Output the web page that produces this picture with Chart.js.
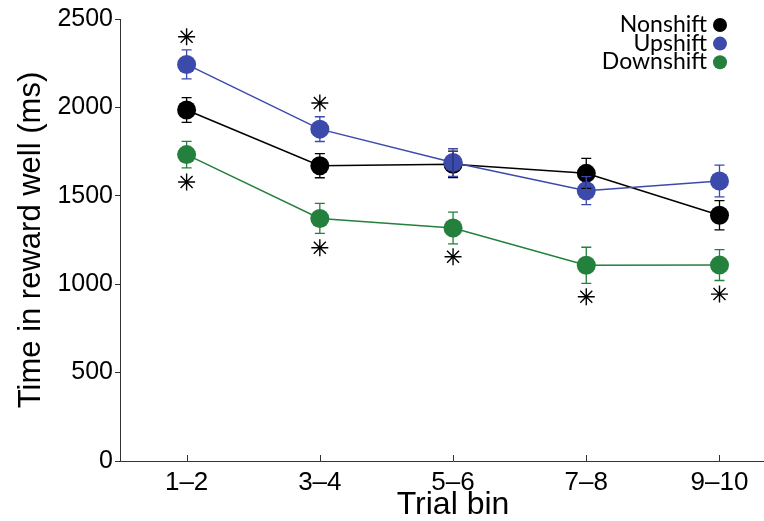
<!DOCTYPE html>
<html>
<head>
<meta charset="utf-8">
<script src="https://cdn.jsdelivr.net/npm/chart.js@4/dist/chart.umd.min.js"></script>
<style>
  html, body { margin: 0; padding: 0; background: #ffffff; overflow: hidden; width: 764px; height: 521px; }
  #wrap { width: 796px; height: 521px; }
</style>
</head>
<body>
<div id="wrap"><canvas id="c" width="796" height="521"></canvas></div>
<script>
// ---- data ----
const categories = ['1–2', '3–4', '5–6', '7–8', '9–10'];
const nonshift     = [1985, 1670, 1678, 1627, 1390];
const nonshiftErr  = [70, 68, 75, 85, 83];
const upshift      = [2243, 1877, 1688, 1529, 1584];
const upshiftErr   = [82, 70, 78, 79, 90];
const downshift    = [1733, 1372, 1318, 1107, 1108];
const downshiftErr = [75, 85, 90, 102, 87];
const sigAbove = [2400, 2025, null, null, null];
const sigBelow = [1578, 1206, 1155, 929, 944];
const yMin = 0, yMax = 2500, yStep = 500;
const seriesNames = ['Nonshift', 'Upshift', 'Downshift'];
const colors = { Nonshift: '#000000', Upshift: '#3c4aab', Downshift: '#23803d' };

const errorBars = {
  id: 'errorBars',
  afterDatasetsDraw(chart) {
    const ctx = chart.ctx, ys = chart.scales.y;
    chart.data.datasets.forEach((ds, di) => {
      if (!ds.errors) return;
      const meta = chart.getDatasetMeta(di);
      ctx.save();
      ctx.strokeStyle = ds.borderColor;
      ctx.lineWidth = 1.3;
      ds.data.forEach((v, i) => {
        const e = ds.errors[i];
        const x = meta.data[i].x;
        const yt = ys.getPixelForValue(v + e), yb = ys.getPixelForValue(v - e);
        ctx.beginPath();
        ctx.moveTo(x, yt); ctx.lineTo(x, yb);
        ctx.moveTo(x - 5, yt); ctx.lineTo(x + 5, yt);
        ctx.moveTo(x - 5, yb); ctx.lineTo(x + 5, yb);
        ctx.stroke();
      });
      ctx.restore();
    });
  }
};

const innerTicks = {
  id: 'innerTicks',
  afterDraw(chart) {
    const xs = chart.scales.x, ctx = chart.ctx, bottom = chart.chartArea.bottom;
    ctx.save();
    ctx.strokeStyle = '#333';
    ctx.lineWidth = 1;
    xs.ticks.forEach((t, i) => {
      const x = Math.round(xs.getPixelForTick(i)) + 0.5;
      ctx.beginPath(); ctx.moveTo(x, bottom); ctx.lineTo(x, bottom - 6); ctx.stroke();
    });
    ctx.restore();
  }
};

const cornerLegend = {
  id: 'cornerLegend',
  afterDraw(chart) {
    const ctx = chart.ctx;
    ctx.save();
    ctx.font = '23px Lato';
    ctx.textAlign = 'right';
    ctx.textBaseline = 'alphabetic';
    const textRight = 707, dotX = 720;
    seriesNames.forEach((name, i) => {
      const base = 32 + i * 18.6;
      ctx.fillStyle = '#000';
      ctx.fillText(name, textRight, base);
      ctx.beginPath();
      ctx.arc(dotX, base - 7, 7, 0, Math.PI * 2);
      ctx.fillStyle = colors[name];
      ctx.fill();
    });
    ctx.restore();
  }
};

function lineSet(label, data, errs, order) {
  return {
    label, data, errors: errs, order,
    borderColor: colors[label], backgroundColor: colors[label],
    pointBackgroundColor: colors[label], pointBorderColor: colors[label],
    borderWidth: 1.5, pointRadius: 9.5, pointBorderWidth: 0, tension: 0
  };
}
function starSet(label, data) {
  return {
    label, data, order: 0, showLine: false,
    pointStyle: 'star', pointRadius: 8.5, pointBorderWidth: 1.4,
    pointBorderColor: '#000', borderColor: '#000', backgroundColor: '#000'
  };
}

new Chart(document.getElementById('c'), {
  type: 'line',
  data: {
    labels: categories,
    datasets: [
      lineSet('Nonshift', nonshift, nonshiftErr, 3),
      lineSet('Upshift', upshift, upshiftErr, 2),
      lineSet('Downshift', downshift, downshiftErr, 1),
      starSet('sigAbove', sigAbove),
      starSet('sigBelow', sigBelow)
    ]
  },
  options: {
    responsive: false,
    animation: false,
    devicePixelRatio: 1,
    layout: { padding: { top: 19, right: 1, left: 0, bottom: 0 } },
    plugins: { legend: { display: false }, tooltip: { enabled: false } },
    scales: {
      x: {
        type: 'category',
        offset: true,
        grid: { display: false, drawTicks: false },
        border: { display: true, color: '#333', width: 1 },
        ticks: { color: '#000', padding: 6, font: { family: 'Liberation Sans', size: 26 } },
        title: { display: true, text: 'Trial bin', color: '#000',
                 font: { family: 'Liberation Sans', size: 32, lineHeight: 1 }, padding: { top: 0, bottom: 0 } },
        afterFit(s) { s.height = 60; }
      },
      y: {
        min: yMin, max: yMax,
        ticks: { stepSize: yStep, color: '#000', padding: 2, font: { family: 'Liberation Sans', size: 25 },
                 callback: (v) => String(v) },
        grid: { display: true, drawOnChartArea: false, drawTicks: true, tickLength: 5, color: '#333' },
        border: { display: true, color: '#333', width: 1 },
        title: { display: true, text: 'Time in reward well (ms)', color: '#000',
                 font: { family: 'Liberation Sans', size: 31, lineHeight: 1 }, padding: { top: 16, bottom: 0 } },
        afterFit(s) { s.width = 120; }
      }
    }
  },
  plugins: [errorBars, innerTicks, cornerLegend]
});
</script>
</body>
</html>
